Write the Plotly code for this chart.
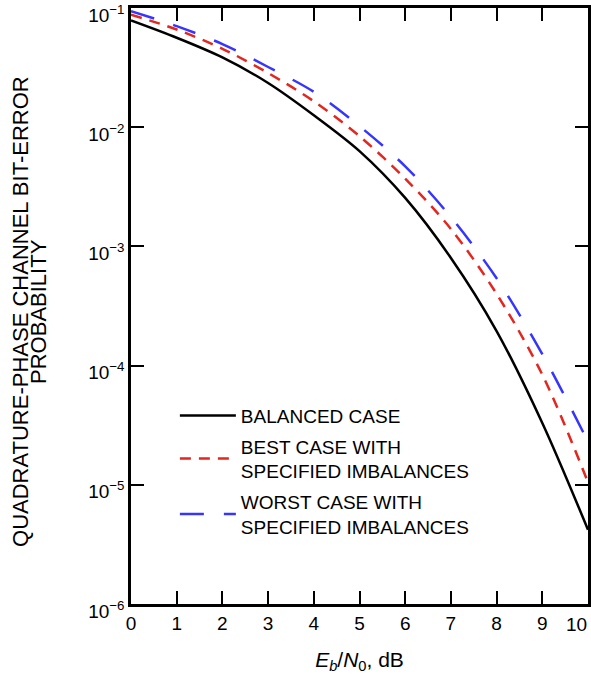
import plotly.graph_objects as go

ebn0_db = [0, 1, 2, 3, 4, 5, 6, 7, 8, 9, 10]
balanced = [0.0786, 0.0563, 0.0385, 0.0235, 0.0126, 6.3e-3, 2.55e-3, 8.0e-4, 1.95e-4, 3.3e-5, 4.2e-6]
best_case = [0.088, 0.066, 0.0455, 0.0285, 0.0165, 8.4e-3, 3.7e-3, 1.4e-3, 4.0e-4, 8.4e-5, 1.05e-5]
worst_case = [0.094, 0.0705, 0.0498, 0.032, 0.0198, 0.0102, 4.7e-3, 1.76e-3, 5.4e-4, 1.25e-4, 2.3e-5]

names = ["BALANCED CASE",
         "BEST CASE WITH<br>SPECIFIED IMBALANCES",
         "WORST CASE WITH<br>SPECIFIED IMBALANCES"]
x_ticks = list(range(0, 11))
x_ticktext = [str(v) for v in x_ticks[:-1]] + [""]
last_x_label = str(x_ticks[-1])
y_tickvals = [1e-6, 1e-5, 1e-4, 1e-3, 1e-2, 1e-1]
y_ticktext = ["10<sup>\u22126</sup>", "10<sup>\u22125</sup>", "10<sup>\u22124</sup>",
              "10<sup>\u22123</sup>", "10<sup>\u22122</sup>", "10<sup>\u22121</sup>"]
y_title_lines = ["QUADRATURE-PHASE CHANNEL BIT-ERROR", "PROBABILITY"]

FONT = "Liberation Sans, Arial, Helvetica, sans-serif"

fig = go.Figure()
fig.add_trace(go.Scatter(x=ebn0_db, y=balanced, mode="lines", name=names[0], legendgroup="a",
                         line=dict(color="black", width=2.5, shape="spline", smoothing=0.9)))
fig.add_trace(go.Scatter(x=ebn0_db, y=best_case, mode="lines", name=names[1], legendgroup="b",
                         line=dict(color="#e3261f", width=2.5, dash="11px,8px", shape="spline", smoothing=0.9)))
fig.add_trace(go.Scatter(x=ebn0_db, y=worst_case, mode="lines", name=names[2], legendgroup="c",
                         line=dict(color="#3535ff", width=2.5, dash="24px,20px", shape="spline", smoothing=0.9)))

annotations = [
    dict(text=y_title_lines[0], xref="paper", yref="paper", x=0, y=0.49, xanchor="center",
         yanchor="middle", xshift=-110, textangle=-90, showarrow=False,
         font=dict(size=22, family=FONT, color="black")),
    dict(text=y_title_lines[1], xref="paper", yref="paper", x=0, y=0.49, xanchor="center",
         yanchor="middle", xshift=-92, textangle=-90, showarrow=False,
         font=dict(size=22, family=FONT, color="black")),
    dict(text=last_x_label, xref="x", yref="paper", x=x_ticks[-1], y=0, xanchor="right",
         yanchor="top", xshift=1, yshift=-8, showarrow=False,
         font=dict(size=19, family=FONT, color="black")),
]

fig.update_layout(
    width=591, height=677,
    margin=dict(l=131, r=3, t=8, b=73, autoexpand=False),
    paper_bgcolor="white", plot_bgcolor="white",
    font=dict(family=FONT, size=19, color="black"),
    showlegend=True,
    legend=dict(x=0.096, y=0.348, xanchor="left", yanchor="top",
                bgcolor="rgba(0,0,0,0)", font=dict(size=19, family=FONT),
                itemwidth=56, tracegroupgap=3),
    annotations=annotations,
    xaxis=dict(range=[0, 10], tickvals=x_ticks, ticktext=x_ticktext, ticks="inside", ticklen=13,
               tickwidth=1.5, ticklabeloverflow="allow", automargin=False,
               tickcolor="black", showline=True, linecolor="black", linewidth=2.5, mirror="ticks",
               showgrid=False, zeroline=False, tickfont=dict(size=19, family=FONT),
               title=dict(text="<i>E<sub>b</sub></i>/<i>N</i><sub>0</sub>, dB", font=dict(size=21, family=FONT),
                          standoff=20)),
    yaxis=dict(type="log", range=[-6, -1], tickvals=y_tickvals, ticktext=y_ticktext,
               ticks="inside", ticklen=13, tickwidth=1.5, tickcolor="black", ticklabeloverflow="allow",
               ticklabelshift=7, automargin=False,
               showline=True, linecolor="black", linewidth=2.5, mirror="ticks",
               showgrid=False, zeroline=False, tickfont=dict(size=19, family=FONT)),
)

fig.write_html("out.html")
